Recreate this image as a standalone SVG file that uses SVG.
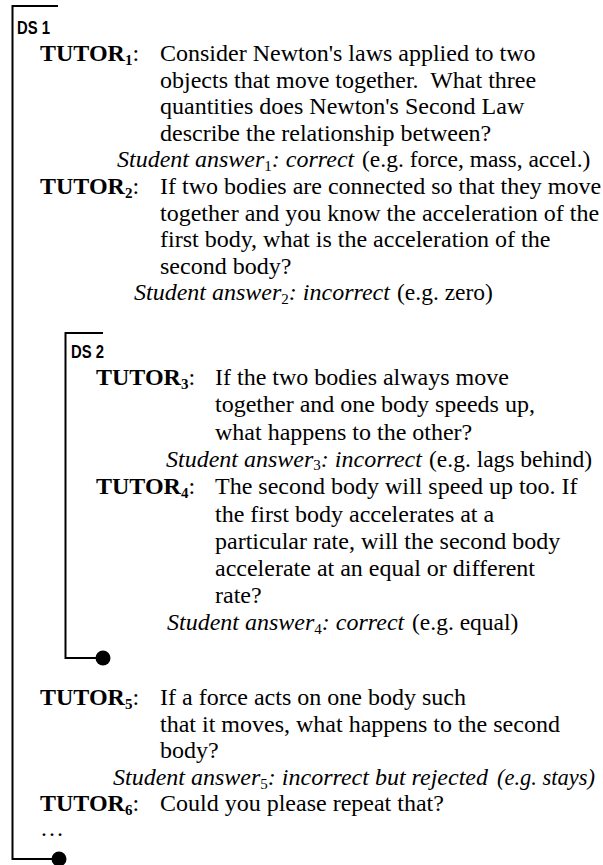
<svg xmlns="http://www.w3.org/2000/svg" width="603" height="865" viewBox="0 0 603 865">
<style>
text{font-family:"Liberation Serif","Times New Roman",serif;font-size:24px;fill:#000}
.b{font-weight:bold}
.sub{font-size:15px}
.it{font-style:italic}
.eg{font-size:23.5px}
.eg5{font-size:22.5px;font-style:italic}
.ds{font-family:"Liberation Sans",Arial,sans-serif;font-weight:bold;font-size:18px}
.br{fill:none;stroke:#000;stroke-width:2}
.dot{fill:#000}
</style>
<rect width="603" height="865" fill="#fff"/>
<g id="connectors">
<path class="br" d="M58,6 H12.5 V859 H59"/>
<circle class="dot" cx="59" cy="859" r="7.5"/>
<path class="br" d="M103,333 H65.5 V658 H103"/>
<circle class="dot" cx="103" cy="658" r="7.5"/>
</g>
<g id="ds1">
<text class="ds" x="17" y="34" textLength="33" lengthAdjust="spacingAndGlyphs">DS 1</text>
</g>
<g id="tutor1">
<text x="40" y="61"><tspan class="b">TUTOR<tspan class="sub" dy="3.5">1</tspan></tspan><tspan dy="-3.5">:</tspan></text>
<text x="160" y="61">Consider Newton's laws applied to two</text>
<text x="160" y="87.6" xml:space="preserve">objects that move together.  What three</text>
<text x="160" y="114.2">quantities does Newton's Second Law</text>
<text x="160" y="140.8">describe the relationship between?</text>
</g>
<g id="answer1">
<text x="117" y="167.4"><tspan class="it">Student answer</tspan><tspan class="sub" dy="3.5">1</tspan><tspan class="it" dy="-3.5">: correct</tspan></text>
<text class="eg" x="362" y="167.4">(e.g. force, mass, accel.)</text>
</g>
<g id="tutor2">
<text x="40" y="194"><tspan class="b">TUTOR<tspan class="sub" dy="3.5">2</tspan></tspan><tspan dy="-3.5">:</tspan></text>
<text x="160" y="194">If two bodies are connected so that they move</text>
<text x="160" y="220.6">together and you know the acceleration of the</text>
<text x="160" y="247.2">first body, what is the acceleration of the</text>
<text x="160" y="273.8">second body?</text>
</g>
<g id="answer2">
<text x="134" y="300.4"><tspan class="it">Student answer</tspan><tspan class="sub" dy="3.5">2</tspan><tspan class="it" dy="-3.5">: incorrect</tspan></text>
<text class="eg" x="397" y="300.4">(e.g. zero)</text>
</g>
<g id="ds2">
<text class="ds" x="71" y="358" textLength="33" lengthAdjust="spacingAndGlyphs">DS 2</text>
</g>
<g id="tutor3">
<text x="96" y="385"><tspan class="b">TUTOR<tspan class="sub" dy="3.5">3</tspan></tspan><tspan dy="-3.5">:</tspan></text>
<text x="215" y="385">If the two bodies always move</text>
<text x="215" y="412">together and one body speeds up,</text>
<text x="215" y="439.5">what happens to the other?</text>
</g>
<g id="answer3">
<text x="166" y="466.5"><tspan class="it">Student answer</tspan><tspan class="sub" dy="3.5">3</tspan><tspan class="it" dy="-3.5">: incorrect</tspan></text>
<text class="eg" x="429" y="466.5">(e.g. lags behind)</text>
</g>
<g id="tutor4">
<text x="96" y="494"><tspan class="b">TUTOR<tspan class="sub" dy="3.5">4</tspan></tspan><tspan dy="-3.5">:</tspan></text>
<text x="215" y="494">The second body will speed up too. If</text>
<text x="215" y="521.5">the first body accelerates at a</text>
<text x="215" y="549">particular rate, will the second body</text>
<text x="215" y="576">accelerate at an equal or different</text>
<text x="215" y="603">rate?</text>
</g>
<g id="answer4">
<text x="167" y="630"><tspan class="it">Student answer</tspan><tspan class="sub" dy="3.5">4</tspan><tspan class="it" dy="-3.5">: correct</tspan></text>
<text class="eg" x="412" y="630">(e.g. equal)</text>
</g>
<g id="tutor5">
<text x="40" y="705"><tspan class="b">TUTOR<tspan class="sub" dy="3.5">5</tspan></tspan><tspan dy="-3.5">:</tspan></text>
<text x="160" y="705">If a force acts on one body such</text>
<text x="160" y="731.5">that it moves, what happens to the second</text>
<text x="160" y="758">body?</text>
</g>
<g id="answer5">
<text x="113" y="785"><tspan class="it">Student answer</tspan><tspan class="sub" dy="3.5">5</tspan><tspan class="it" dy="-3.5">: incorrect but rejected</tspan></text>
<text class="eg5" x="497" y="785">(e.g. stays)</text>
</g>
<g id="tutor6">
<text x="40" y="811"><tspan class="b">TUTOR<tspan class="sub" dy="3.5">6</tspan></tspan><tspan dy="-3.5">:</tspan></text>
<text x="160" y="811">Could you please repeat that?</text>
</g>
<g id="ellipsis">
<text x="40" y="836">…</text>
</g>
</svg>
